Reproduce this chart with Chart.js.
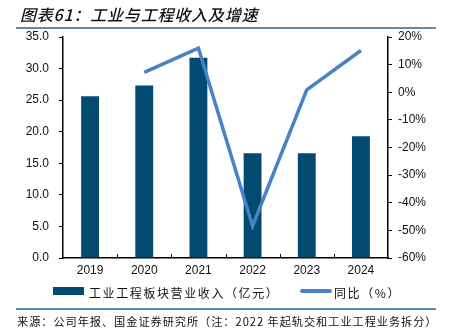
<!DOCTYPE html>
<html><head><meta charset="utf-8">
<script src="https://cdn.jsdelivr.net/npm/chart.js@4/dist/chart.umd.min.js"></script>
<style>
html,body{margin:0;padding:0;background:#fff;width:451px;height:336px;overflow:hidden;}
#wrap{position:relative;width:451px;height:336px;font-family:"Noto Sans CJK SC","Liberation Sans",sans-serif;}
canvas{position:absolute;left:0;top:0;}
.title{position:absolute;left:20px;top:2px;font-size:16px;font-style:italic;font-weight:500;letter-spacing:0.8px;color:#111;white-space:nowrap;}
.hline{position:absolute;left:16px;width:420px;height:2px;background:#5a8db3;}
.src{position:absolute;left:17px;top:313px;font-size:11.2px;color:#111;white-space:nowrap;letter-spacing:0.95px;}
.leg{position:absolute;top:284px;font-size:12px;color:#111;white-space:nowrap;letter-spacing:1.6px;}
.sw{position:absolute;}
</style></head>
<body><div id="wrap">
<canvas id="c" width="451" height="336"></canvas>
<div class="title">图表61：工业与工程收入及增速</div>
<div class="hline" style="top:27px"></div>
<div class="sw" style="left:53px;top:287px;width:31px;height:8px;background:#024a70"></div>
<div class="leg" style="left:89px">工业工程板块营业收入（亿元）</div>
<div class="sw" style="left:300px;top:289px;width:32px;height:4px;border-radius:2px;background:#4682c4"></div>
<div class="leg" style="left:334px">同比（%）</div>
<div class="hline" style="top:308px"></div>
<div class="src">来源：公司年报、国金证券研究所（注：2022 年起轨交和工业工程业务拆分）</div>
</div>
<script>
const categories = ["2019","2020","2021","2022","2023","2024"];
const revenue = [25.6, 27.3, 31.7, 16.6, 16.6, 19.3];
const growth = [null, 7.2, 16.0, -48.4, 0.9, 15.1];
const leftTicks = [0,5,10,15,20,25,30,35];
const rightTicks = [-60,-50,-40,-30,-20,-10,0,10,20];

const innerTicks = {
  id:'innerTicks',
  afterDatasetsDraw(chart){
    const x = chart.scales.x, ctx = chart.ctx, b = chart.chartArea.bottom;
    ctx.save(); ctx.strokeStyle='#000'; ctx.lineWidth=1;
    for(let i=1;i<categories.length;i++){
      const px = Math.round((x.getPixelForValue(i-1)+x.getPixelForValue(i))/2)+0.5;
      ctx.beginPath(); ctx.moveTo(px,b); ctx.lineTo(px,b-4); ctx.stroke();
    }
    ctx.restore();
  }
};

new Chart(document.getElementById('c'),{
  data:{labels:categories,datasets:[
    {type:'line',data:growth,yAxisID:'y1',borderColor:'#4682c4',borderWidth:3.5,pointRadius:0,fill:false,tension:0,order:0},
    {type:'bar',data:revenue,yAxisID:'y',backgroundColor:'#024a70',barPercentage:0.66,categoryPercentage:0.5,order:1}
  ]},
  options:{
    responsive:false,animation:false,
    layout:{padding:{top:37,bottom:58,left:0,right:0}},
    plugins:{legend:{display:false},tooltip:{enabled:false}},
    scales:{
      x:{grid:{display:false,drawTicks:false},border:{color:'#000',width:1.5},
         ticks:{color:'#111',font:{family:'Liberation Sans',size:12},padding:5},
         afterFit(s){s.height=20;}},
      y:{position:'left',min:0,max:35,
         afterBuildTicks(s){s.ticks=leftTicks.map(v=>({value:v}));},
         grid:{drawOnChartArea:false,tickLength:4,color:'#000'},border:{color:'#000',width:1.5},
         ticks:{color:'#111',font:{family:'Liberation Sans',size:12},padding:10,callback:v=>v.toFixed(1)},
         afterFit(s){s.width=63;}},
      y1:{position:'right',min:-60,max:20,
         afterBuildTicks(s){s.ticks=rightTicks.map(v=>({value:v}));},
         grid:{drawOnChartArea:false,tickLength:4,color:'#000'},border:{color:'#000',width:1.5},
         ticks:{color:'#111',font:{family:'Liberation Sans',size:12},padding:6,callback:v=>v+'%'},
         afterFit(s){s.width=63;}}
    }
  },
  plugins:[innerTicks]
});
</script>
</body></html>
